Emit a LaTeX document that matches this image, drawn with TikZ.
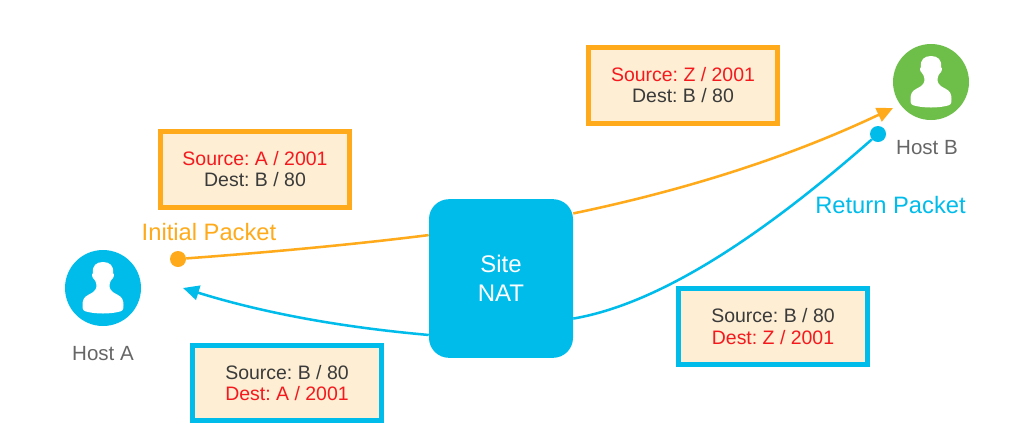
\documentclass[tikz,border=0pt]{standalone}
\usepackage{fontspec}
\setmainfont{Liberation Sans}
\usepackage{xcolor}
\usepackage{tikz}
\usetikzlibrary{arrows.meta, positioning}
\frenchspacing

\definecolor{natblue}{HTML}{00BCEB}
\definecolor{pktorange}{HTML}{FFAA1A}
\definecolor{hostgreen}{HTML}{6EBE4A}
\definecolor{boxfill}{HTML}{FDEED4}
\definecolor{addrred}{HTML}{F5191E}
\definecolor{addrdark}{HTML}{3A3A3A}
\definecolor{hostgrey}{HTML}{666666}

\tikzset{
  hdrbox/.style={draw, line width=3.6pt, fill=boxfill, minimum width=142pt, minimum height=56.5pt,
    align=center, inner sep=0pt, font=\fontsize{14.6pt}{15.8pt}\selectfont, text=addrdark},
  hostdisc/.style={circle, fill=#1, minimum size=57pt, inner sep=0pt},
  hostlabel/.style={text=hostgrey, font=\fontsize{15.4pt}{18pt}\selectfont, inner sep=0pt},
  pktlabel/.style={font=\fontsize{17.8pt}{20pt}\selectfont, inner sep=0pt},
  pktdot/.style={circle, fill=#1, minimum size=12pt, inner sep=0pt},
  pktline/.style={line width=1.9pt, #1, -{Triangle[length=12pt,width=11pt]}},
  pktplain/.style={line width=1.9pt, #1},
  pics/person/.style={code={
    \fill[white] (-6.5,-3) .. controls (-6.5,-6) and (-8,-7) .. (-9,-9)
      .. controls (-11,-10) and (-11.5,-14) .. (-10,-15)
      .. controls (-11,-22) and (-7,-26) .. (0,-26)
      .. controls (7,-26) and (11,-22) .. (10,-15)
      .. controls (11.5,-14) and (11,-10) .. (9,-9)
      .. controls (8,-7) and (6.5,-6) .. (6.5,-3)
      .. controls (6.5,4) and (12,5) .. (15,7)
      .. controls (19,9) and (20.5,12) .. (20.5,17)
      .. controls (20.5,22) and (20,23) .. (15,24)
      .. controls (6,26) and (-6,26) .. (-15,24)
      .. controls (-20,23) and (-20.5,22) .. (-20.5,17)
      .. controls (-20.5,12) and (-19,9) .. (-15,7)
      .. controls (-12,5) and (-6.5,4) .. (-6.5,-3) -- cycle;
  }}
}

\begin{document}
\begin{tikzpicture}[x=0.75pt, y=-0.75pt]

  \useasboundingbox (0,0) rectangle (1032,444);

  % hosts
  \node[hostdisc=natblue] (hostA) at (103,288) {};
  \node[hostdisc=hostgreen] (hostB) at (931,82) {};
  \pic at (hostA) {person};
  \pic at (hostB) {person};
  \node[hostlabel] (hostAlabel) at (103,354) {Host A};
  \node[hostlabel] (hostBlabel) at (927,148) {Host B};

  % NAT box
  \node[fill=natblue, rounded corners=15pt, minimum width=108pt, minimum height=119pt,
    align=center, text=white, inner sep=0pt, font=\fontsize{18pt}{21.8pt}\selectfont] (nat) at (501,278.5)
  {Site\\NAT};

  % packet headers
  \node[hdrbox, draw=pktorange] (initbox) at (255,169.5)
  {\textcolor{addrred}{Source: A / 2001}\\Dest: B / 80};
  \node[hdrbox, draw=pktorange] (natbox) at (683,85.5)
  {\textcolor{addrred}{Source: Z / 2001}\\Dest: B / 80};
  \node[hdrbox, draw=natblue] (retbox) at (773,326.5)
  {Source: B / 80\\\textcolor{addrred}{Dest: Z / 2001}};
  \node[hdrbox, draw=natblue] (backbox) at (287,383)
  {Source: B / 80\\\textcolor{addrred}{Dest: A / 2001}};

  \node[pktlabel, text=pktorange] (initlabel) at (209,232) {Initial Packet};
  \node[pktlabel, text=natblue] (retlabel) at (890.5,205) {Return Packet};

  \node[pktdot=pktorange] (initdot) at (178,259) {};
  \node[pktdot=natblue] (retdot) at (878,134) {};
  \coordinate (hostAin) at (183,288);
  \coordinate (hostBin) at (893,108);

  % initial packet
  \draw[pktplain=pktorange] (initdot) .. controls (260,253) and (350,245) .. (nat.149);
  \draw[pktline=pktorange] (nat.42) .. controls (700,187) and (800,152) .. (hostBin);

  % return packet
  \draw[pktplain=natblue] (retdot) .. controls (780,220) and (670,302) .. (nat.-29);
  \draw[pktline=natblue] (nat.218) .. controls (350,328) and (270,315) .. (hostAin);

\end{tikzpicture}
\end{document}
